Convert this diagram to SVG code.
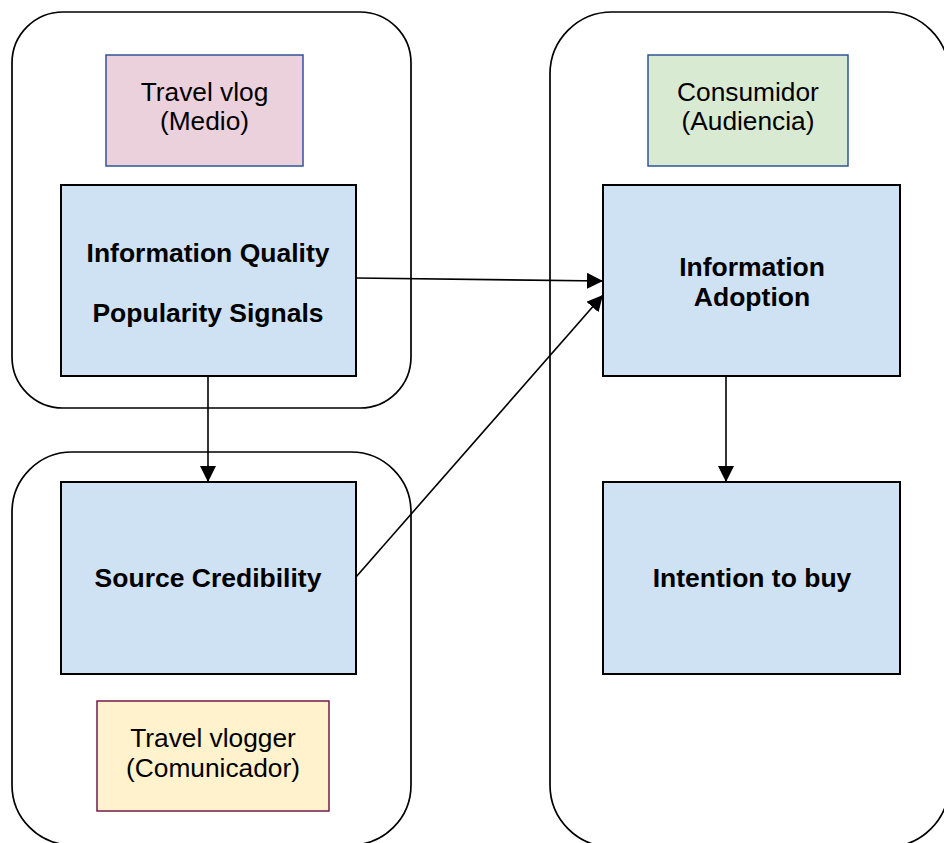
<svg xmlns="http://www.w3.org/2000/svg" width="944" height="843" viewBox="0 0 944 843">
  <style>
    .frame { fill: #ffffff; stroke: #000000; stroke-width: 1.7; }
    .construct { fill: #cfe2f3; stroke: #000000; stroke-width: 2; }
    .medio { fill: #ead1dc; stroke: #2f5597; stroke-width: 1.5; }
    .audiencia { fill: #d9ead3; stroke: #2f5597; stroke-width: 1.5; }
    .comunicador { fill: #fff2cc; stroke: #741b47; stroke-width: 1.5; }
    .bold { font-family: "Liberation Sans", Arial, sans-serif; font-weight: bold; font-size: 26.5px; fill: #000000; text-anchor: middle; }
    .label { font-family: "Liberation Sans", Arial, sans-serif; font-size: 26.3px; fill: #000000; text-anchor: middle; }
    .conn { fill: none; stroke: #000000; stroke-width: 1.6; }
  </style>
  <defs>
    <marker id="arrow" markerUnits="userSpaceOnUse" markerWidth="16" markerHeight="16" viewBox="0 0 16 16" refX="16" refY="8" orient="auto">
      <path d="M0,0 L16,8 L0,16 Z" fill="#000000"/>
    </marker>
  </defs>

  <!-- grouping frames -->
  <g id="frame-medio">
    <rect class="frame" x="12" y="12" width="399" height="396" rx="51" ry="51"/>
  </g>
  <g id="frame-comunicador">
    <rect class="frame" x="12" y="452" width="399" height="393" rx="60" ry="60"/>
  </g>
  <g id="frame-audiencia">
    <rect class="frame" x="550" y="12" width="399" height="835" rx="62" ry="62"/>
  </g>

  <!-- role labels -->
  <g id="travel-vlog">
    <rect class="medio" x="106" y="55" width="197" height="111"/>
    <text class="label" x="204.5" y="101">Travel vlog</text>
    <text class="label" x="204.5" y="129.5">(Medio)</text>
  </g>
  <g id="consumidor">
    <rect class="audiencia" x="648" y="55" width="200" height="111"/>
    <text class="label" x="748" y="101">Consumidor</text>
    <text class="label" x="748" y="129.5">(Audiencia)</text>
  </g>
  <g id="travel-vlogger">
    <rect class="comunicador" x="97" y="701" width="232" height="110"/>
    <text class="label" x="213" y="747">Travel vlogger</text>
    <text class="label" x="213" y="777">(Comunicador)</text>
  </g>

  <!-- constructs -->
  <g id="information-quality">
    <rect class="construct" x="61" y="185" width="295" height="191"/>
    <text class="bold" x="208" y="262">Information Quality</text>
    <text class="bold" x="208" y="322">Popularity Signals</text>
  </g>
  <g id="source-credibility">
    <rect class="construct" x="61" y="482" width="295" height="192"/>
    <text class="bold" x="208" y="587">Source Credibility</text>
  </g>
  <g id="information-adoption">
    <rect class="construct" x="603" y="185" width="297" height="191"/>
    <text class="bold" x="752" y="276">Information</text>
    <text class="bold" x="752" y="306">Adoption</text>
  </g>
  <g id="intention-to-buy">
    <rect class="construct" x="603" y="482" width="297" height="192"/>
    <text class="bold" x="752" y="587">Intention to buy</text>
  </g>

  <!-- connectors -->
  <g id="connectors">
    <path class="conn" d="M356,278 L603,281" marker-end="url(#arrow)"/>
    <path class="conn" d="M208,376 L208,482" marker-end="url(#arrow)"/>
    <path class="conn" d="M356,577 L603,295" marker-end="url(#arrow)"/>
    <path class="conn" d="M726,376 L726,482" marker-end="url(#arrow)"/>
  </g>
</svg>
